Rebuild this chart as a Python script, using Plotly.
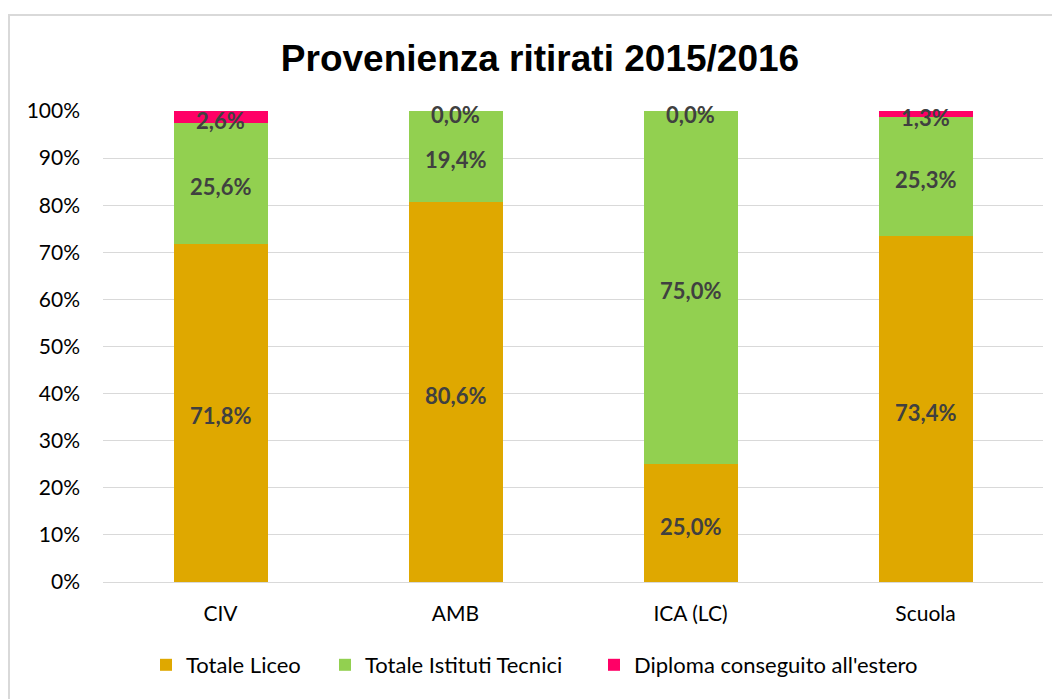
import plotly.graph_objects as go

categories = ["CIV", "AMB", "ICA (LC)", "Scuola"]
liceo = [71.8, 80.6, 25.0, 73.4]
tecnici = [25.6, 19.4, 75.0, 25.3]
estero = [2.6, 0.0, 0.0, 1.3]
series_names = ["Totale Liceo", "Totale Istituti Tecnici", "Diploma conseguito all'estero"]
colors = ["#DFA800", "#92D050", "#FF0066"]
y_ticks = [0, 10, 20, 30, 40, 50, 60, 70, 80, 90, 100]
y_tick_labels = [f"{v}%" for v in y_ticks]

AXIS_FONT = "Lato, Carlito, Calibri, sans-serif"

# page body margin offset (figure drawn 8px from the window edge)
OFF = 8
W, H = 1060, 699
# target plot area in screen pixels
SL, SR, ST, SB = 103, 1043, 111, 582
PL, PR, PT, PB = SL - OFF, SR - OFF, ST - OFF, SB - OFF
PW, PH = PR - PL, PB - PT

def fmt(v):
    return "<b>" + f"{v:.1f}%".replace(".", ",") + "</b>"

fig = go.Figure()
series = [liceo, tecnici, estero]
legend_ids = ["legend", "legend2", "legend3"]
legend_screen_left = [146, 325, 594]
for name, vals, col, lid in zip(series_names, series, colors, legend_ids):
    fig.add_trace(go.Bar(
        x=categories, y=vals, name=name,
        marker=dict(color=col, line=dict(width=0)),
        hoverinfo="skip", legend=lid,
    ))

# data labels centered in segments
base = [0.0] * len(categories)
for vals in series:
    for cat, b, v in zip(categories, base, vals):
        fig.add_annotation(
            x=cat, y=b + v / 2, text=fmt(v), showarrow=False,
            xref="x", yref="y", yanchor="middle", yshift=-3,
            font=dict(family=AXIS_FONT, size=22, color="#404040"),
        )
    base = [b + v for b, v in zip(base, vals)]

legend_common = dict(
    orientation="h", yanchor="middle", xanchor="left",
    y=(SB - 665) / PH,
    font=dict(family=AXIS_FONT, size=22, color="black"),
    itemwidth=30, bgcolor="rgba(0,0,0,0)",
)
layout_legends = {}
for lid, sx in zip(legend_ids, legend_screen_left):
    layout_legends[lid] = dict(legend_common, x=(sx - SL) / PW)

fig.update_layout(
    barmode="stack",
    bargap=0.6,
    width=W, height=H,
    margin=dict(l=PL, r=W - PR, t=PT, b=H - PB, autoexpand=False),
    paper_bgcolor="white",
    plot_bgcolor="white",
    title=dict(
        text="<b>Provenienza ritirati 2015/2016</b>",
        font=dict(family="Liberation Sans, Arial, sans-serif", size=37, color="black"),
        x=(540 - OFF) / W, xanchor="center", y=1 - (58 - OFF) / H, yanchor="middle",
    ),
    showlegend=True,
    shapes=[dict(
        type="rect", xref="paper", yref="paper",
        x0=(9 - SL) / PW, x1=(1085 - SL) / PW,
        y0=(SB - 730) / PH, y1=(SB - 15) / PH,
        line=dict(color="#D9D9D9", width=2), fillcolor="rgba(0,0,0,0)", layer="below",
    )],
    **layout_legends,
)

fig.update_yaxes(
    range=[0, 100], tickvals=y_ticks, ticktext=y_tick_labels,
    showgrid=True, gridcolor="#D9D9D9", gridwidth=1,
    zeroline=False, showline=False, automargin=False,
    tickfont=dict(family=AXIS_FONT, size=21, color="black"),
    ticks="", ticklabelstandoff=22,
)
fig.update_xaxes(
    showgrid=False, showline=True, linecolor="#D9D9D9", linewidth=1,
    automargin=False,
    tickfont=dict(family=AXIS_FONT, size=21, color="black"),
    ticks="", ticklabelstandoff=13,
)

fig.write_html("out.html")
